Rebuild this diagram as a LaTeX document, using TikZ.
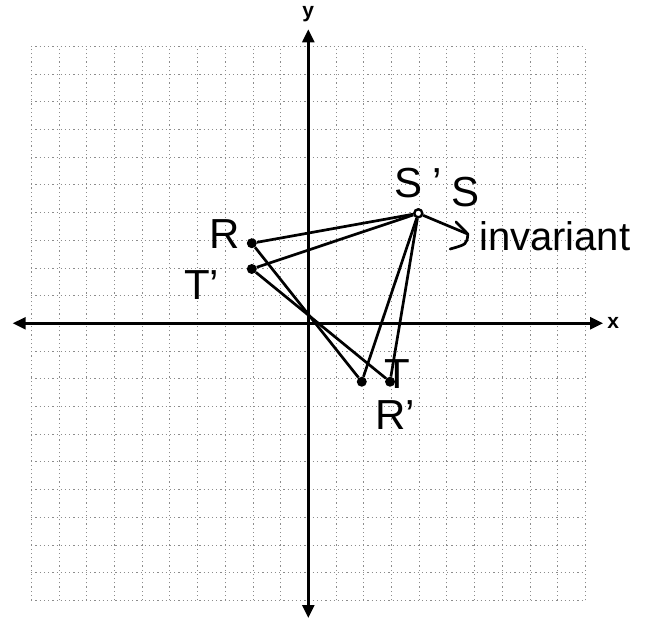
\documentclass[tikz,border=0pt]{standalone}
\usepackage{fontspec}
\setmainfont{Liberation Sans}
\usetikzlibrary{arrows.meta}
\begin{document}
\begin{tikzpicture}[x=27.7pt,y=27.7pt,
  gridline/.style={black!45, line width=0.7pt, dash pattern=on 1.2pt off 3pt},
  axis/.style={line width=2.5pt, {Triangle[length=13pt,width=12pt]}-{Triangle[length=13pt,width=12pt]}},
  seg/.style={line width=2.7pt},
  dot/.style={circle, fill=black, inner sep=0pt, minimum size=10pt},
  odot/.style={circle, draw=black, fill=white, line width=2.4pt, inner sep=0pt, minimum size=8pt},
  hand/.style={font=\fontsize{42}{42}\selectfont, inner sep=0pt},
  handsmall/.style={font=\fontsize{40}{40}\selectfont, inner sep=0pt},
  axlabel/.style={font=\fontsize{21}{21}\selectfont\bfseries, inner sep=0pt}
]
\useasboundingbox (-11.13,-10.71) rectangle (12.19,11.67);
% grid
\draw[gridline] (-10,-10) grid[step=1] (10,10);
% axes
\coordinate (xl) at (-10.67,0);
\coordinate (xr) at (10.64,0);
\coordinate (yt) at (0,10.61);
\coordinate (yb) at (0,-10.64);
\draw[axis] (xl) -- (xr);
\draw[axis] (yb) -- (yt);
\node[axlabel] (xlab) at (11.01,0.02) {x};
\node[axlabel] (ylab) at (0,11.15) {y};
% points
\node[dot] (R) at (-2.04,2.89) {};
\node[dot] (Tp) at (-2.04,1.96) {};
\node[odot] (S) at (3.97,3.97) {};
\node[dot] (Rp) at (1.93,-2.11) {};
\node[dot] (T) at (2.95,-2.11) {};
% segments
\draw[seg] (R) -- (S);
\draw[seg] (Tp) -- (S);
\draw[seg] (R) -- (Rp);
\draw[seg] (Tp) -- (T);
\draw[seg] (S) -- (Rp);
\draw[seg] (S) -- (T);
% invariant arrow
\coordinate (tip) at (5.76,3.22);
\coordinate (h1) at (5.33,3.66);
\coordinate (h2) at (5.12,2.68);
\draw[seg] (S) -- (tip);
\draw[seg, line cap=round, line join=round] (h1) -- (tip) .. controls (5.72,2.85) .. (h2);
% labels
\node[hand] (Rlab) at (-3.01,3.22) {R};
\node[hand] (Tplab) at (-3.85,1.38) {T'};
\node[hand] (Splab) at (3.95,5.05) {S\kern10pt'};
\node[hand] (Slab) at (5.66,4.74) {S};
\node[handsmall, anchor=base west] (inv) at (6.16,2.64) {invariant};
\node[hand] (Rplab) at (3.13,-3.30) {R'};
\node[hand] (Tlab) at (3.22,-1.85) {T};
\end{tikzpicture}
\end{document}
